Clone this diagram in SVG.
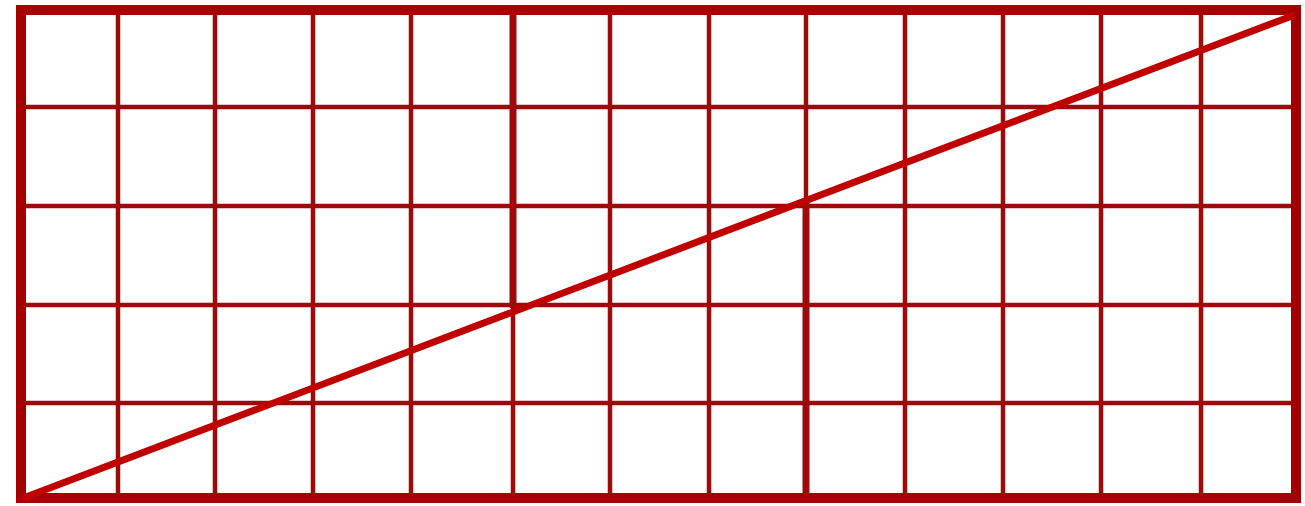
<svg xmlns="http://www.w3.org/2000/svg" width="1305" height="506" viewBox="0 0 1305 506">
<style>
.g{stroke:#9e0a0a;stroke-width:4.5;fill:none}
.t{stroke:#9e0a0a;stroke-width:7;fill:none}
.o{stroke:#a50000;stroke-width:10;fill:none}
.d{stroke:#c00000;stroke-width:7;fill:none;stroke-linecap:round}
</style>
<rect width="1305" height="506" fill="#ffffff"/>
<g id="grid">
<path class="g" d="M118 10V498M215 10V498M313 10V498M411 10V498M513 10V498M610 10V498M709 10V498M806 10V498M905 10V498M1003 10V498M1101 10V498M1201 10V498"/>
<path class="g" d="M21 107H1296M21 206H1296M21 305H1296M21 403H1296"/>
<path class="t" d="M513 10V308M806 203V498"/>
<rect class="o" x="21" y="10" width="1275" height="488"/>
</g>
<g id="connectors">
<line class="d" x1="26" y1="497" x2="1292" y2="16"/>
</g>
</svg>
